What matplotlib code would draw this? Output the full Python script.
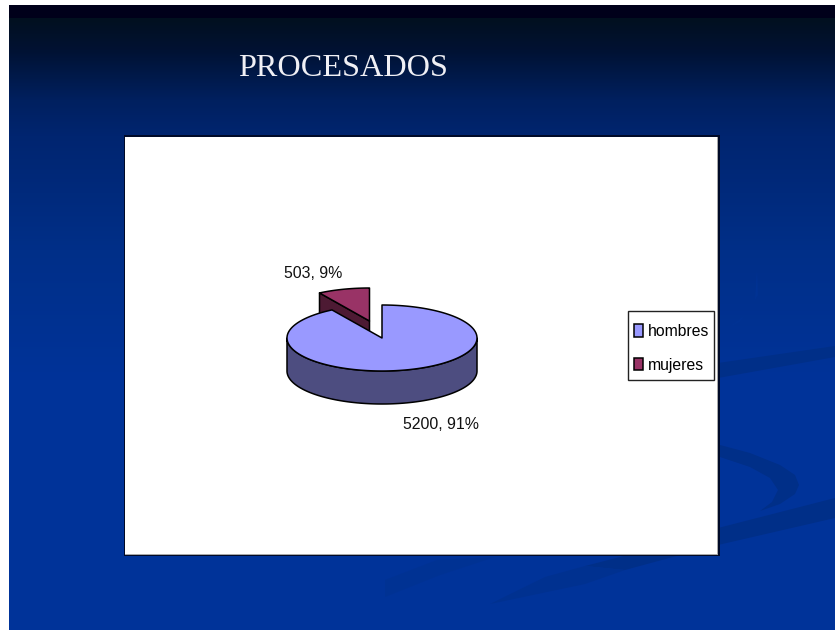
import numpy as np
import matplotlib
matplotlib.use("Agg")
import matplotlib.pyplot as plt
from matplotlib.colors import LinearSegmentedColormap
from matplotlib.patches import Polygon, Rectangle, Patch

categories = ["hombres", "mujeres"]
values = [5200, 503]
percents = [91, 9]
title = "PROCESADOS"

W, H = 835, 630
fig = plt.figure(figsize=(W / 100, H / 100), dpi=100, facecolor="white")
ax = fig.add_axes([0, 0, 1, 1])
ax.set_xlim(0, W)
ax.set_ylim(H, 0)
ax.axis("off")

# slide background gradient
stops = [(5, "#00001a"), (17, "#00001a"), (18, "#02101f"), (50, "#011233"),
         (100, "#00205f"), (136, "#002570"), (250, "#002f88"), (380, "#003399"), (630, "#003399")]
pos = [(y - 5) / 625 for y, _ in stops]
cmap = LinearSegmentedColormap.from_list("bg", list(zip(pos, [c for _, c in stops])), N=625)
ax.imshow(np.linspace(0, 1, 625)[:, None], cmap=cmap, extent=(9, W, H, 5), aspect="auto", zorder=0)
ax.set_xlim(0, W)
ax.set_ylim(H, 0)

# swooshes in the slide background
band = "#002f88"
faint = "#003190"
swooshes = [
    ([(835, 498), (718, 528), (620, 557), (585, 566), (625, 570), (673, 557), (718, 545), (835, 518)], band),
    ([(585, 566), (545, 577), (490, 604), (585, 584), (625, 570)], faint),
    ([(835, 346), (718, 363), (718, 378), (835, 357)], band),
    ([(720, 445), (750, 453), (780, 465), (795, 475), (799, 485), (795, 494), (780, 504), (760, 511),
      (772, 502), (778, 490), (770, 478), (750, 467), (720, 457)], band),
    ([(385, 580), (437, 560), (495, 557), (440, 575), (385, 597)], "#003293"),
    ([(757, 270), (758, 295), (745, 315), (722, 332), (740, 322), (755, 300)], "#003293"),
]
for pts, col in swooshes:
    ax.add_patch(Polygon(pts, closed=True, fc=col, ec="none", zorder=1))

# chart frame
ax.add_patch(Rectangle((123.5, 135.3), 596, 421, fc="#000a28", ec="none", zorder=2))
ax.add_patch(Rectangle((125, 136.7), 593, 418.5, fc="#a8a8a8", ec="none", zorder=2.1))
ax.add_patch(Rectangle((125, 137), 592, 417.3, fc="white", ec="none", zorder=2.2))

# 3D pie geometry
cx, cy, rx, ry, depth = 382.0, 338.0, 95.0, 33.0, 33.0
ex_dx, ex_dy = -12.5, -17.0
total = sum(values)
sweep = [v / total * 2 * np.pi for v in values]
edge = dict(ec="black", lw=1.1, joinstyle="round")


def rim(a0, a1, x0=cx, y0=cy, n=240):
    t = np.linspace(a0, a1, n)
    return np.column_stack([x0 + rx * np.sin(t), y0 - ry * np.cos(t)])


a_end = sweep[0]  # hombres runs clockwise from 12 o'clock

# exploded wedge (behind main pie)
wx, wy = cx + ex_dx, cy + ex_dy
wedge_rim = rim(a_end, 2 * np.pi, wx, wy, 60)
left = wedge_rim[0]
ax.add_patch(Polygon([left, (wx, wy), (wx, wy + depth), left + (0, depth)],
                     closed=True, fc="#4d1a33", zorder=3, **edge))
ax.add_patch(Polygon(np.vstack([[(wx, wy)], wedge_rim]), closed=True, fc="#993366", zorder=3.1, **edge))

# main slice side wall and top
front = rim(np.pi / 2, 3 * np.pi / 2)
side = np.vstack([front, (front + (0, depth))[::-1]])
ax.add_patch(Polygon(side, closed=True, fc="#4d4d80", zorder=3.2, **edge))
ax.add_patch(Polygon(np.vstack([[(cx, cy)], rim(0, a_end, n=480)]), closed=True, fc="#9999ff", zorder=3.3, **edge))

# data labels
lab = dict(family="Liberation Sans", fontsize=11.4, color="#111111", ha="center", va="center", zorder=5)
ax.text(441, 424.5, f"{values[0]}, {percents[0]}%", **lab)
ax.text(313.5, 273, f"{values[1]}, {percents[1]}%", **lab)

# legend
ax.add_patch(Rectangle((628, 310.5), 85.5, 69.5, fc="white", ec="#222222", lw=1.0, zorder=5.5))
handles = [Patch(fc=c, ec="black", lw=1.1) for c in ("#9999ff", "#993366")]
leg = ax.legend(handles, categories, loc="upper left", bbox_to_anchor=(633.5, 324),
                bbox_transform=ax.transData, borderaxespad=0, frameon=False,
                prop={"family": "Liberation Sans", "size": 11.3},
                handlelength=0.62, handleheight=0.85, handletextpad=0.32,
                labelspacing=1.18, borderpad=0)
leg.set_zorder(6)

# title
ax.text(238, 75.5, title, family="Liberation Serif", fontsize=23.2, color="#f0f0f5", ha="left", va="baseline", zorder=5)

fig.savefig("out.png", dpi=100)
